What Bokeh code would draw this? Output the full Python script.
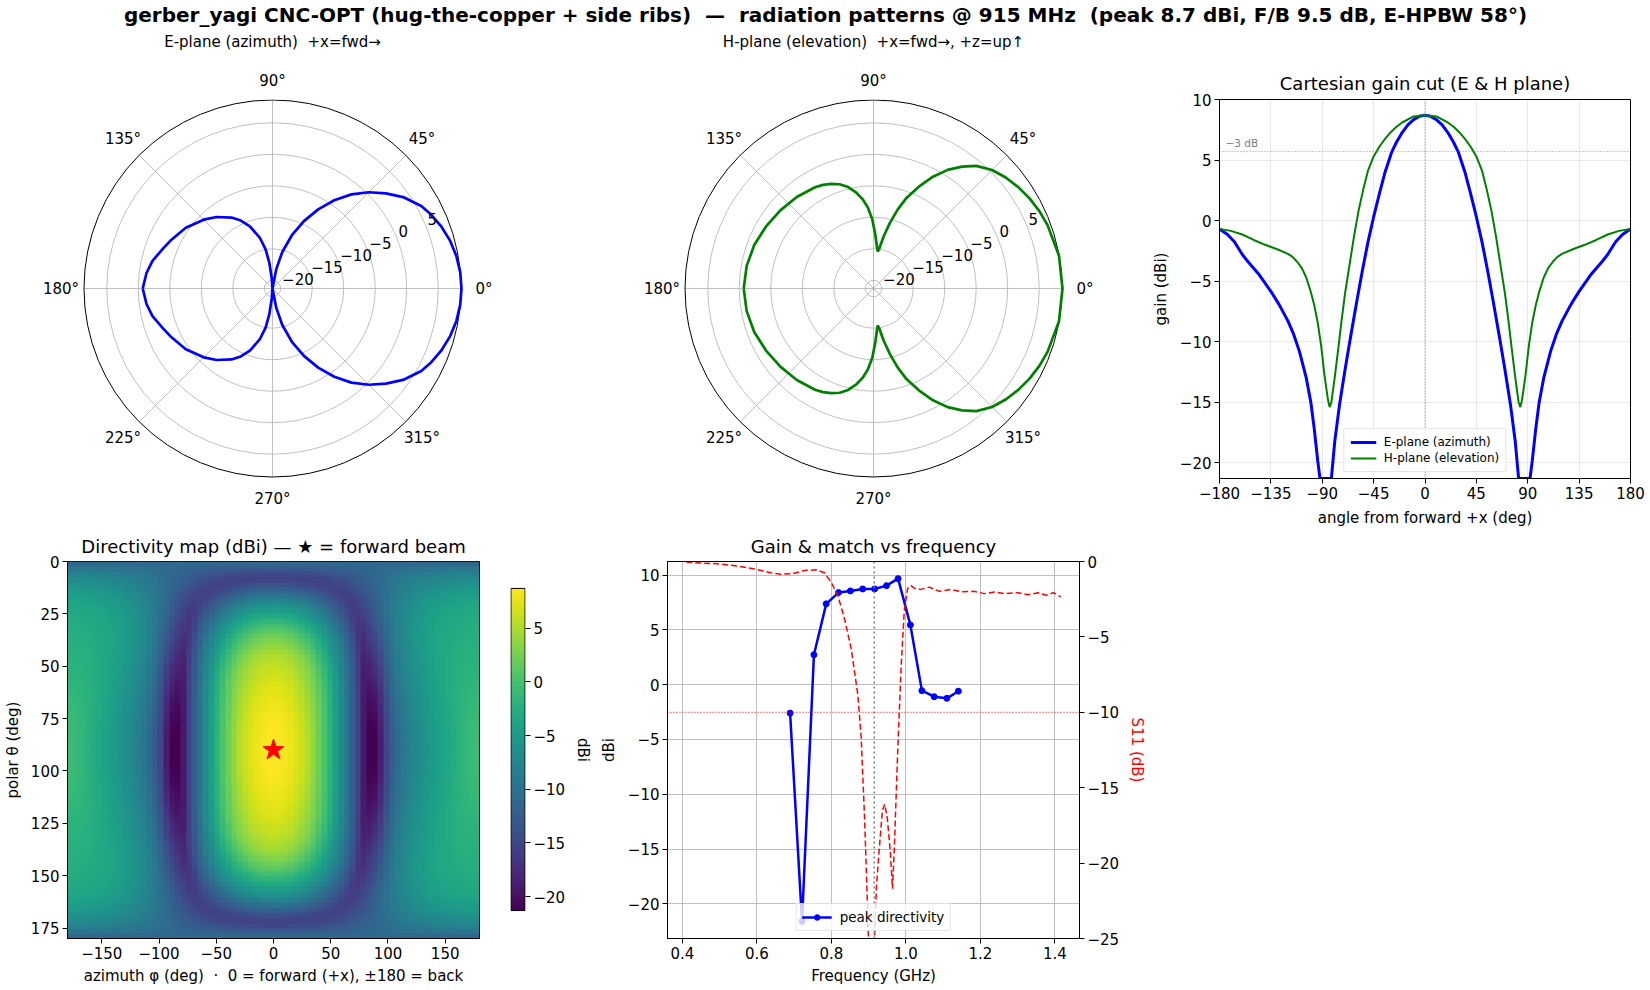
import numpy as np
from bokeh.plotting import figure
from bokeh.models import (Range1d, LinearAxis, FixedTicker, Legend, LegendItem,
                          LinearColorMapper, Span, Title)
from bokeh.layouts import row, column
from bokeh.embed import file_html
from bokeh.resources import INLINE
from bokeh.core.properties import value
from bokeh.palettes import Viridis256

FONT = "DejaVu Sans"
MINUS = "\u2212"
NB = "\u00a0"

# ---------------- texts ----------------
SUPTITLE = ("gerber_yagi CNC-OPT (hug-the-copper + side ribs) " + NB + "\u2014" + NB +
            " radiation patterns @ 915 MHz " + NB + "(peak 8.7 dBi, F/B 9.5 dB, E-HPBW 58\u00b0)")
E_TITLE = "E-plane (azimuth) " + NB + "+x=fwd\u2192"
H_TITLE = "H-plane (elevation) " + NB + "+x=fwd\u2192, +z=up\u2191"
CART_TITLE = "Cartesian gain cut (E & H plane)"
MAP_TITLE = "Directivity map (dBi) \u2014 \u2605 = forward beam"
FREQ_TITLE = "Gain & match vs frequency"
MAP_XLABEL = "azimuth \u03c6 (deg) " + NB + "\u00b7" + NB + " 0 = forward (+x), \u00b1180 = back"

# ---------------- data ----------------
R_MAX = 8.7          # peak gain (dBi)
R_MIN = -21.3        # floor (peak - 30 dB)

# E-plane cut, gain vs angle from forward (symmetric)
E_ANG = [0, 5, 10, 15, 20, 25, 29, 35, 40, 45, 50, 55, 60, 65, 70, 75, 79, 82,
         92, 94, 97, 100, 104, 110, 115, 120, 128, 135, 145, 155, 160, 167, 173, 180]
E_GAIN = [8.7, 8.61, 8.34, 7.9, 7.27, 6.47, 5.7, 4.0, 2.2, 0.3, -1.8, -4.2, -6.8, -9.5,
          -12.3, -15.3, -18.2, -21.3, -21.3, -19.8, -17.2, -15.0, -13.0, -10.8, -9.4, -8.3,
          -6.9, -5.85, -4.5, -3.4, -2.8, -1.75, -1.15, -0.7]

# H-plane cut, gain vs angle from forward (symmetric)
H_ANG = [0, 10, 20, 25, 30, 35, 40, 45, 50, 54, 58, 62, 66, 70, 73, 76, 79, 82, 83.5,
         85, 88, 91, 94, 97, 100, 104, 108, 112, 116, 120, 130, 140, 150, 160, 170, 180]
H_GAIN = [8.7, 8.6, 8.1, 7.75, 7.3, 6.75, 6.1, 5.3, 4.1, 2.6, 0.9, -1.2, -3.6, -6.0, -8.2,
          -10.6, -12.9, -15.0, -15.4, -14.8, -12.8, -10.3, -8.4, -7.0, -5.9, -4.7, -3.9,
          -3.4, -3.0, -2.75, -2.35, -2.0, -1.6, -1.15, -0.85, -0.7]

R_TICKS = [-20, -15, -10, -5, 0, 5]
POLAR_ANGLES = [0, 45, 90, 135, 180, 225, 270, 315]
CART_X_TICKS = [-180, -135, -90, -45, 0, 45, 90, 135, 180]
CART_Y_TICKS = [-20, -15, -10, -5, 0, 5, 10]
CART_Y_TOP = 10

# gain & match vs frequency
F_GAIN = [0.689, 0.721, 0.753, 0.786, 0.819, 0.851, 0.884, 0.916, 0.948, 0.979,
          1.012, 1.043, 1.076, 1.110, 1.141]
GAIN = [-2.6, -21.6, 2.73, 7.37, 8.4, 8.55, 8.73, 8.73, 9.03, 9.67, 5.45, -0.55,
        -1.1, -1.25, -0.6]
F_S11 = [0.41, 0.448, 0.493, 0.547, 0.60, 0.637, 0.664, 0.695, 0.727, 0.759, 0.781,
         0.799, 0.817, 0.835, 0.853, 0.871, 0.880, 0.889, 0.895, 0.900, 0.905, 0.910,
         0.915, 0.921, 0.928, 0.937, 0.943, 0.950, 0.958, 0.964, 0.969, 0.978, 0.987,
         0.9955, 1.0045, 1.013, 1.022, 1.04, 1.063, 1.09, 1.121, 1.148, 1.184, 1.211,
         1.238, 1.265, 1.301, 1.328, 1.355, 1.378, 1.396, 1.416]
S11 = [-0.04, -0.1, -0.15, -0.3, -0.53, -0.75, -0.84, -0.81, -0.6, -0.55, -0.75,
       -1.36, -2.24, -3.78, -5.76, -8.84, -11.7, -17.0, -21.4, -25.5, -30.0, -29.0,
       -25.5, -21.5, -19.2, -16.5, -16.1, -17.0, -19.2, -21.7, -19.0, -12.6, -7.1,
       -3.3, -1.8, -1.58, -1.76, -1.85, -1.7, -1.98, -1.85, -2.0, -1.98, -2.13,
       -2.02, -2.13, -2.07, -2.2, -2.07, -2.24, -2.07, -2.35]
F_DESIGN = 0.915
S11_MATCH = -10
S11_YLIM = (-25, 0)
F_X_TICKS = [0.4, 0.6, 0.8, 1.0, 1.2, 1.4]
F_X_LABELS = ["0.4", "0.6", "0.8", "1.0", "1.2", "1.4"]
DBI_TICKS = [-20, -15, -10, -5, 0, 5, 10]
S11_TICKS = [0, -5, -10, -15, -20, -25]

MAP_PHI_TICKS = [-150, -100, -50, 0, 50, 100, 150]
MAP_THETA_TICKS = [0, 25, 50, 75, 100, 125, 150, 175]
CB_TICKS = [-20, -15, -10, -5, 0, 5]
MAP_THETA_STEP = 2.5
MAP_PHI_STEP = 5.0

# ---------------- directivity map built from the two cuts ----------------
th = np.radians(np.arange(0, 180 + 1e-9, MAP_THETA_STEP))[:, None]
ph = np.radians(np.arange(-180, 180 + 1e-9, MAP_PHI_STEP))[None, :]
ux = np.sin(th) * np.cos(ph)
uy = np.sin(th) * np.sin(ph)
uz = np.cos(th) * np.ones_like(ph)
psi = np.degrees(np.arccos(np.clip(ux, -1, 1)))
den = uy ** 2 + uz ** 2
wgt = np.where(den > 1e-12, uz ** 2 / np.maximum(den, 1e-12), 0.0)
MAP = (1 - wgt) * np.interp(psi, E_ANG, E_GAIN) + wgt * np.interp(psi, H_ANG, H_GAIN)
MAP_LO, MAP_HI = float(MAP.min()), float(MAP.max())
iy, ix = np.unravel_index(np.argmax(MAP), MAP.shape)
STAR_THETA = float(np.degrees(th[iy, 0]))
STAR_PHI = float(np.degrees(ph[0, ix]))

# ---------------- layout constants (page px) ----------------
TOP_H = 50
ROW1_Y0, ROW1_Y1 = 50, 529
ROW2_Y0, ROW2_Y1 = 529, 989
F1_TOP, F1_BOT = 99, 478          # row-1 frame
F2_TOP, F2_BOT = 560, 938         # row-2 frame
CB_TOP, CB_BOT = 587, 910         # colour-bar extent
CY = 288
CX_E, CX_H = 272, 873
SUB_Y = 41
R_PX = 189.0
POLAR_HALF_W = 230
GRID_C = "#b0b0b0"


def fmt(v):
    return f"{v:g}".replace("-", MINUS)


def style_axis(ax, ticks, labels=None, label_standoff=4):
    ax.ticker = FixedTicker(ticks=list(ticks))
    labs = labels if labels is not None else [fmt(t) for t in ticks]
    ax.major_label_overrides = {t: l for t, l in zip(ticks, labs)}
    ax.major_label_text_font = FONT
    ax.major_label_text_font_size = "15px"
    ax.major_label_text_color = "black"
    ax.axis_label_text_font = FONT
    ax.axis_label_text_font_size = "15px"
    ax.axis_label_text_font_style = "normal"
    ax.axis_label_text_color = "black"
    ax.axis_label_standoff = label_standoff
    ax.major_label_standoff = 3
    ax.major_tick_in = 0
    ax.major_tick_out = 5
    ax.minor_tick_in = 0
    ax.minor_tick_out = 0
    ax.axis_line_color = "black"
    ax.major_tick_line_color = "black"


def style_title(t, text, size="18px", standoff=6):
    t.text = text
    t.align = "center"
    t.text_font = FONT
    t.text_font_size = size
    t.text_font_style = "normal"
    t.text_color = "black"
    t.standoff = standoff


def mirror(ang, gain):
    a = np.concatenate([-np.array(ang[::-1], float), np.array(ang[1:], float)])
    g = np.concatenate([np.array(gain[::-1], float), np.array(gain[1:], float)])
    return a, g


# ---------------- suptitle + polar subtitles ----------------
top = figure(width=1649, height=TOP_H, x_range=Range1d(0, 1649), y_range=Range1d(TOP_H, 0),
             x_axis_location=None, y_axis_location=None, min_border=0,
             output_backend="svg", toolbar_location=None)
top.grid.visible = False
top.outline_line_color = None
top.text(x=[825], y=[14], text=[SUPTITLE], text_font=value(FONT), text_font_size="20px",
         text_font_style="bold", text_align="center", text_baseline="middle", text_color="black")
top.text(x=[CX_E, CX_H], y=[SUB_Y, SUB_Y], text=[E_TITLE, H_TITLE], text_font=value(FONT),
         text_font_size="15px", text_align="center", text_baseline="middle", text_color="black")


# ---------------- polar panels ----------------
def polar_panel(x0, w, cx, ang, gain, color):
    bl = (cx - POLAR_HALF_W) - x0
    br = (x0 + w) - (cx + POLAR_HALF_W)
    p = figure(width=w, height=ROW1_Y1 - ROW1_Y0,
               x_range=Range1d(-POLAR_HALF_W, POLAR_HALF_W),
               y_range=Range1d(CY - F1_BOT, CY - F1_TOP), x_axis_location=None,
               y_axis_location=None, min_border_left=bl, min_border_right=br,
               min_border_top=F1_TOP - ROW1_Y0, min_border_bottom=ROW1_Y1 - F1_BOT,
               output_backend="svg", toolbar_location=None)
    p.grid.visible = False
    p.outline_line_color = None
    span = R_MAX - R_MIN

    def rad(v):
        return (np.clip(np.asarray(v, float), R_MIN, R_MAX) - R_MIN) / span * R_PX

    rr = rad(R_TICKS)
    n = len(rr)
    p.circle(x=[0] * n, y=[0] * n, radius=list(rr), fill_color=None,
             line_color=GRID_C, line_width=0.8)
    t = np.radians(POLAR_ANGLES)
    p.segment(x0=[0] * len(t), y0=[0] * len(t), x1=list(R_PX * np.cos(t)),
              y1=list(R_PX * np.sin(t)), line_color=GRID_C, line_width=0.8)
    p.circle(x=[0], y=[0], radius=[R_PX - 0.5], fill_color=None, line_color="black",
             line_width=1)
    a, g = mirror(ang, gain)
    a = np.radians(a)
    r = rad(g)
    p.line(list(r * np.cos(a)), list(r * np.sin(a)), line_color=color, line_width=2.7)
    # angle labels inside the frame as glyphs; 90 / 270 as titles (outside frame)
    lr = R_PX + 22.5
    inner = [(d, tt) for d, tt in zip(POLAR_ANGLES, t) if d not in (90, 270)]
    p.text(x=[float(lr * np.cos(tt)) for d, tt in inner],
           y=[float(lr * np.sin(tt)) for d, tt in inner],
           text=[f"{d}\u00b0" for d, tt in inner], text_align="center",
           text_baseline="middle", text_font=value(FONT), text_font_size="15px",
           text_color="black")
    style_title(p.title, "90\u00b0", "15px", 20)
    bot = Title()
    style_title(bot, "270\u00b0", "15px", 18)
    p.add_layout(bot, "below")
    ra = np.radians(22.5)
    p.text(x=list(rr * np.cos(ra) + 2), y=list(rr * np.sin(ra)),
           text=[fmt(v) for v in R_TICKS], text_align="left", text_baseline="bottom",
           text_font=value(FONT), text_font_size="15px", text_color="black")
    return p


pE = polar_panel(0, 573, CX_E, E_ANG, E_GAIN, "blue")
pH = polar_panel(573, 575, CX_H, H_ANG, H_GAIN, "green")

# ---------------- cartesian cut ----------------
pc = figure(width=501, height=ROW1_Y1 - ROW1_Y0, x_range=Range1d(-180, 180),
            y_range=Range1d(R_MIN, CART_Y_TOP), min_border_left=71, min_border_right=19,
            min_border_top=F1_TOP - ROW1_Y0, min_border_bottom=ROW1_Y1 - F1_BOT,
            output_backend="svg", toolbar_location=None)
style_title(pc.title, CART_TITLE, "18px", 11)
style_axis(pc.xaxis[0], CART_X_TICKS, label_standoff=7)
pc.xaxis.axis_label = "angle from forward +x (deg)"
style_axis(pc.yaxis[0], CART_Y_TICKS, label_standoff=7)
pc.yaxis.axis_label = "gain (dBi)"
pc.grid.grid_line_color = GRID_C
pc.grid.grid_line_alpha = 0.35
pc.grid.grid_line_width = 0.8
pc.outline_line_color = "black"
pc.outline_line_width = 1
pc.add_layout(Span(location=0, dimension="height", line_color="#555555", line_width=0.8,
                   line_dash="1 2"))
pc.add_layout(Span(location=R_MAX - 3, dimension="width", line_color="#777777",
                   line_width=0.8, line_dash="1 2"))
pc.text(x=[CART_X_TICKS[0] + 5.3], y=[R_MAX - 3 + 0.25], text=[MINUS + "3 dB"],
        text_align="left", text_baseline="bottom", text_font=value(FONT),
        text_font_size="10.5px", text_color="#808080")
ea, eg = mirror(E_ANG, E_GAIN)
ha, hg = mirror(H_ANG, H_GAIN)
lE = pc.line(list(ea), list(eg), line_color="blue", line_width=3)
lH = pc.line(list(ha), list(hg), line_color="green", line_width=2)
legC = Legend(items=[LegendItem(label="E-plane (azimuth)", renderers=[lE]),
                     LegendItem(label="H-plane (elevation)", renderers=[lH])],
              location="bottom_center", label_text_font=FONT, label_text_font_size="12px",
              label_text_color="black", border_line_color="#cccccc", background_fill_alpha=0.8,
              glyph_width=26, glyph_height=14, label_standoff=8, padding=6, spacing=2,
              margin=6, label_height=14)
pc.add_layout(legC)

# ---------------- directivity map ----------------
B2_TOP = F2_TOP - ROW2_Y0
B2_BOT = ROW2_Y1 - F2_BOT
mapper = LinearColorMapper(palette=Viridis256, low=MAP_LO, high=MAP_HI)
pm = figure(width=490, height=ROW2_Y1 - ROW2_Y0, x_range=Range1d(-180, 180),
            y_range=Range1d(180, 0), min_border_left=67, min_border_right=11,
            min_border_top=B2_TOP, min_border_bottom=B2_BOT, output_backend="svg",
            toolbar_location=None)
style_title(pm.title, MAP_TITLE, "18px", 9)
pm.image(image=[MAP], x=-180, y=0, dw=360, dh=180, color_mapper=mapper)
pm.scatter(x=[STAR_PHI], y=[STAR_THETA], marker="star", size=22, fill_color="red",
           line_color="red")
style_axis(pm.xaxis[0], MAP_PHI_TICKS, label_standoff=5)
pm.xaxis.axis_label = MAP_XLABEL
style_axis(pm.yaxis[0], MAP_THETA_TICKS, label_standoff=6)
pm.yaxis.axis_label = "polar \u03b8 (deg)"
pm.grid.visible = False
pm.outline_line_color = "black"

# colour bar (frame shares row-2 borders; bar occupies CB_TOP..CB_BOT)
cb_scale = (CB_BOT - CB_TOP) / (MAP_HI - MAP_LO)
cb_y0 = MAP_LO - (F2_BOT - CB_BOT) / cb_scale
cb_y1 = MAP_HI + (CB_TOP - F2_TOP) / cb_scale
pcb = figure(width=105, height=ROW2_Y1 - ROW2_Y0, x_range=Range1d(-0.03, 1.03),
             y_range=Range1d(cb_y0, cb_y1), x_axis_location=None, y_axis_location="right",
             min_border_left=20, min_border_right=68, min_border_top=B2_TOP,
             min_border_bottom=B2_BOT, output_backend="svg", toolbar_location=None)
pcb.image(image=[np.linspace(MAP_LO, MAP_HI, 256).reshape(-1, 1)], x=0, y=MAP_LO, dw=1,
          dh=MAP_HI - MAP_LO, color_mapper=mapper)
pcb.quad(left=[0], right=[1], bottom=[MAP_LO], top=[MAP_HI], fill_color=None,
         line_color="black", line_width=1)
style_axis(pcb.yaxis[0], CB_TICKS, label_standoff=6)
pcb.yaxis.axis_label = "dBi"
pcb.yaxis.axis_line_color = None
pcb.grid.visible = False
pcb.outline_line_color = None

# ---------------- gain & match vs frequency ----------------
g_lo, g_hi = min(GAIN), max(GAIN)
g_pad = 0.05 * (g_hi - g_lo)
f_lo, f_hi = min(F_S11 + F_GAIN), max(F_S11 + F_GAIN)
f_pad = 0.05 * (f_hi - f_lo)
pf = figure(width=565, height=ROW2_Y1 - ROW2_Y0, x_range=Range1d(f_lo - f_pad, f_hi + f_pad),
            y_range=Range1d(g_lo - g_pad, g_hi + g_pad), min_border_left=72,
            min_border_right=81, min_border_top=B2_TOP, min_border_bottom=B2_BOT,
            output_backend="svg", toolbar_location=None)
style_title(pf.title, FREQ_TITLE, "18px", 9)
pf.extra_y_ranges = {"s11": Range1d(S11_YLIM[0], S11_YLIM[1])}
style_axis(pf.xaxis[0], F_X_TICKS, F_X_LABELS, label_standoff=5)
pf.xaxis.axis_label = "Frequency (GHz)"
style_axis(pf.yaxis[0], DBI_TICKS, label_standoff=7)
pf.yaxis.axis_label = "dBi"
ax2 = LinearAxis(y_range_name="s11")
style_axis(ax2, S11_TICKS, label_standoff=6)
ax2.axis_label = "S11 (dB)"
ax2.axis_label_text_color = "red"
pf.add_layout(ax2, "right")
pf.grid.grid_line_color = GRID_C
pf.grid.grid_line_width = 0.8
pf.outline_line_color = "black"
pf.add_layout(Span(location=F_DESIGN, dimension="height", line_color="#808080",
                   line_width=1.6, line_dash="2 3"))
gl = pf.line(F_GAIN, GAIN, line_color="blue", line_width=2.5)
gs = pf.scatter(F_GAIN, GAIN, size=6, fill_color="blue", line_color="blue")
pf.line(F_S11, S11, y_range_name="s11", line_color="red", line_width=1.5, line_dash="6 3")
pf.add_layout(Span(location=S11_MATCH, dimension="width", y_range_name="s11",
                   line_color="red", line_width=1, line_dash="1 2"))
legF = Legend(items=[LegendItem(label="peak directivity", renderers=[gl, gs])],
              location="bottom_center", label_text_font=FONT, label_text_font_size="13.5px",
              label_text_color="black", border_line_color="#cccccc", background_fill_alpha=0.8,
              glyph_width=30, glyph_height=14, label_standoff=8, padding=5, margin=7)
pf.add_layout(legF)

layout = column(top,
                row(pE, pH, pc, spacing=0),
                row(pm, pcb, pf, spacing=0),
                spacing=0)

open("out.html", "w").write(file_html(layout, INLINE))
